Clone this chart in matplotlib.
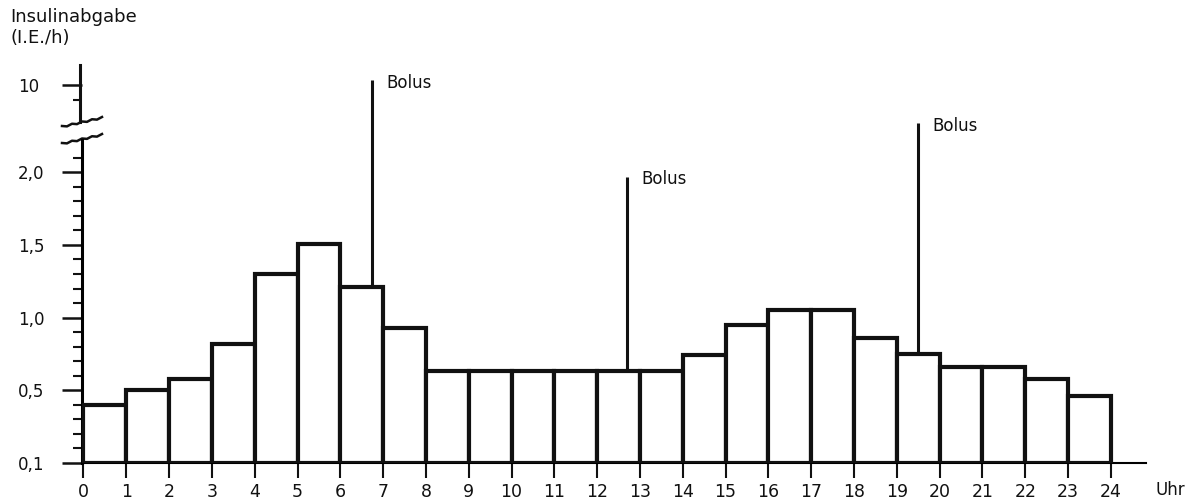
import numpy as np
import matplotlib
matplotlib.use("Agg")
import matplotlib.pyplot as plt

# hourly basal rate (I.E./h), hour 0..23
hours = list(range(24))
basal = [0.42, 0.50, 0.58, 0.82, 1.30, 1.51, 1.21, 0.93,
         0.63, 0.63, 0.63, 0.63, 0.63, 0.63, 0.74, 0.95,
         1.05, 1.05, 0.86, 0.75, 0.66, 0.66, 0.58, 0.47]

# bolus spikes: time (h), base value, top value
bolus_time = [6.75, 12.7, 19.5]
bolus_base = [1.21, 0.63, 0.75]
bolus_top = [10.35, 1.97, 4.7]

ytick_vals = [0.1, 0.5, 1.0, 1.5, 2.0, 10]
ytick_labels = ["0,1", "0,5", "1,0", "1,5", "2,0", "10"]
yminor = [0.18, 0.26, 0.34, 0.42, 0.6, 0.7, 0.8, 0.9, 1.1, 1.2, 1.3, 1.4,
          1.6, 1.7, 1.8, 1.9, 2.1, 9]


def fwd(v):
    v = np.asarray(v, dtype=float)
    return np.where(v <= 0.5, (v - 0.1) / 0.4,
           np.where(v <= 2.25, 2 * v,
           np.where(v <= 9, 4.5 + (v - 2.25) / 13.5, 5.0 + (v - 9) * 0.2)))


def inv(d):
    d = np.asarray(d, dtype=float)
    return np.where(d <= 1, 0.1 + 0.4 * d,
           np.where(d <= 4.5, d / 2,
           np.where(d <= 5.0, 2.25 + (d - 4.5) * 13.5, 9 + (d - 5) / 0.2)))


plt.rcParams['font.family'] = 'DejaVu Sans'
ink = '#111111'

fig = plt.figure(figsize=(11.98, 5.0), dpi=100)
ax = fig.add_axes([82 / 1198, 37 / 500, 1064 / 1198, 398 / 500])
ax.set_yscale('function', functions=(fwd, inv))

ax.bar(hours, [b - 0.1 for b in basal], bottom=0.1, width=1, align='edge',
       facecolor='white', edgecolor=ink, linewidth=3, zorder=3)
ax.vlines(bolus_time, bolus_base, bolus_top, color=ink, linewidth=2.2, zorder=4)
for t, top in zip(bolus_time, bolus_top):
    ax.annotate("Bolus", (t, top), xytext=(10, -2), textcoords='offset points',
                ha='left', va='center', fontsize=12, color=ink)

ax.set_xlim(-0.035, 24.82)
ax.set_ylim(0.1, 11.38)

ax.set_xticks(range(25))
ax.set_xticklabels([str(h) for h in range(25)], fontsize=12.5, color=ink)
ax.set_yticks(ytick_vals)
ax.set_yticklabels(ytick_labels, fontsize=12, color=ink, ha='left')
ax.set_yticks(yminor, minor=True)
ax.tick_params(axis='x', direction='out', length=10.5, width=1.5, pad=4, colors=ink)
ax.tick_params(axis='y', which='major', direction='out', length=14.5, width=1.8,
               pad=31.5, colors=ink)
ax.tick_params(axis='y', which='minor', direction='out', length=6.5, width=1.5,
               colors=ink)

for s in ['top', 'right']:
    ax.spines[s].set_visible(False)
ax.spines['left'].set_linewidth(2.2)
ax.spines['bottom'].set_linewidth(1.5)
ax.spines['left'].set_bounds(0.1, 2.22)

# upper part of the broken y axis and the break marks
ax.plot([-2 / 1064, -2 / 1064], [(463 - 121.7) / 398, 1.0], transform=ax.transAxes,
        color=ink, linewidth=2.2, clip_on=False)
for y0 in [143, 126]:
    xs = np.linspace(62, 102, 9)
    ys = y0 - (xs - 62) * 9 / 40 + np.array([0, 1.5, 0, 1.5, 0, 1.5, 0, 1.5, 0])
    ax.plot((xs - 82) / 1064, (463 - ys) / 398, transform=ax.transAxes,
            color=ink, linewidth=1.8, clip_on=False)

fig.text(10 / 1198, 1 - 8 / 500, "Insulinabgabe\n(I.E./h)", ha='left', va='top',
         fontsize=13, color=ink, linespacing=1.2)
fig.text(1170 / 1198, 1 - 490 / 500, "Uhr", ha='center', va='center',
         fontsize=12, color=ink)

fig.savefig("out.png", dpi=100)
